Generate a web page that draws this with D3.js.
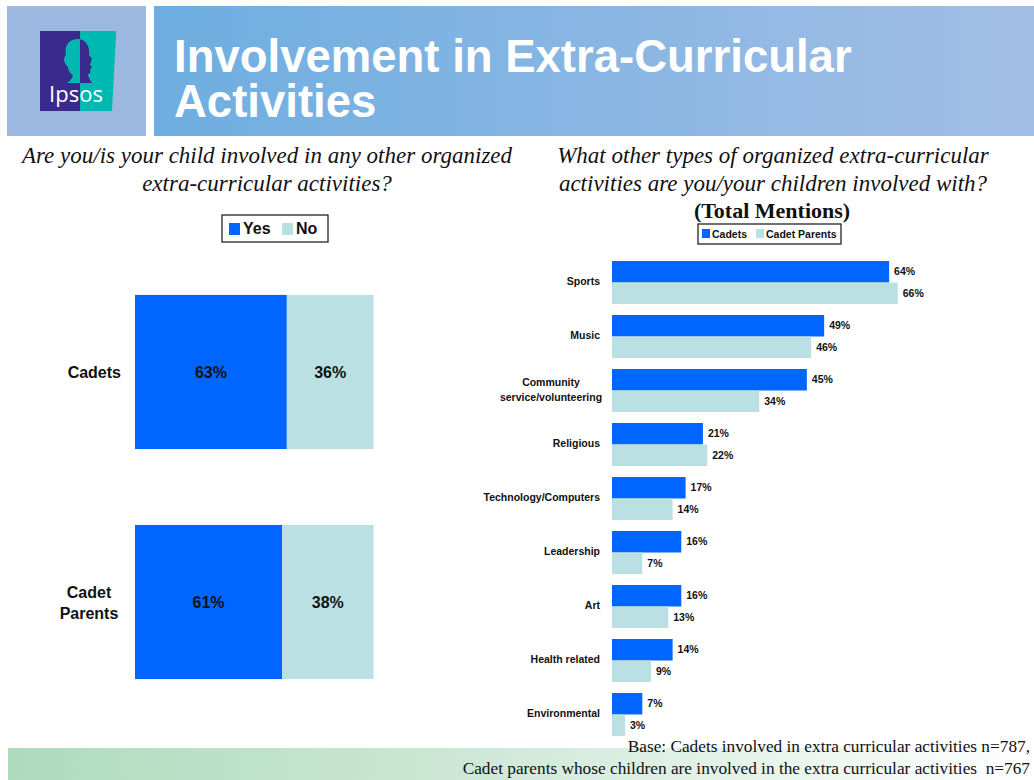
<!DOCTYPE html>
<html>
<head>
<meta charset="utf-8">
<script src="https://cdn.jsdelivr.net/npm/d3@7"></script>
<style>
  html, body { margin: 0; padding: 0; background: #fff; }
  svg { display: block; }
</style>
</head>
<body>
<script>
// Left panel: share involved in other organized activities
const groups = ["Cadets", "Cadet Parents"];
const groupLines = [["Cadets"], ["Cadet", "Parents"]];
const yesValues = [63, 61];
const noValues = [36, 38];

// Right panel: types of activities (total mentions)
const activities = ["Sports", "Music", "Community service/volunteering", "Religious",
  "Technology/Computers", "Leadership", "Art", "Health related", "Environmental"];
const activityLines = [["Sports"], ["Music"], ["Community", "service/volunteering"], ["Religious"],
  ["Technology/Computers"], ["Leadership"], ["Art"], ["Health related"], ["Environmental"]];
const cadetValues = [64, 49, 45, 21, 17, 16, 16, 14, 7];
const parentValues = [66, 46, 34, 22, 14, 7, 13, 9, 3];
const seriesNames = ["Cadets", "Cadet Parents"];

const BLUE = "#0066ff";
const LIGHT = "#bbe0e3";
const W = 1034, H = 780;

const svg = d3.select("body").append("svg").attr("width", W).attr("height", H);
const defs = svg.append("defs");

// ---------- footer band (drawn first, behind everything) ----------
const fg = defs.append("linearGradient").attr("id", "ftr").attr("x1", "0").attr("x2", "1");
fg.append("stop").attr("offset", "0").attr("stop-color", "#afdbbd");
fg.append("stop").attr("offset", "0.45").attr("stop-color", "#cde8d6");
fg.append("stop").attr("offset", "1").attr("stop-color", "#ffffff");
svg.append("rect").attr("x", 8).attr("y", 748).attr("width", W - 8).attr("height", 32).attr("fill", "url(#ftr)");

// ---------- header ----------
const hg = defs.append("linearGradient").attr("id", "hdr").attr("x1", "0").attr("x2", "1");
hg.append("stop").attr("offset", "0").attr("stop-color", "#6eaee0");
hg.append("stop").attr("offset", "1").attr("stop-color", "#a3bee6");
svg.append("rect").attr("x", 7).attr("y", 6).attr("width", 139).attr("height", 130).attr("fill", "#9db8e0");
svg.append("rect").attr("x", 154).attr("y", 6).attr("width", W - 154).attr("height", 130).attr("fill", "url(#hdr)");

// logo
const logo = svg.append("g").attr("transform", "translate(40,31)");
logo.append("path").attr("d", "M0,0 H76 V4 L72,80 H0 Z").attr("fill", "#00b8b2");
logo.append("rect").attr("width", 40).attr("height", 80).attr("fill", "#3a2a8c");
const clipL = defs.append("clipPath").attr("id", "cl");
clipL.append("rect").attr("x", 0).attr("y", 0).attr("width", 40).attr("height", 80);
const clipR = defs.append("clipPath").attr("id", "cr");
clipR.append("rect").attr("x", 40).attr("y", 0).attr("width", 40).attr("height", 80);
const head = "M38,8 C28,8 24,16 26,24 C22,28 25,34 28,36 C28,40 31,43 33,44 C32,48 30,50 27,52 L52,52 C50,49 48,46 48,43 C50,43 51,41 50,39 L52,36 L50,34 C51,32 51,29 52,28 L49,24 C50,14 45,8 38,8 Z";
logo.append("path").attr("d", head).attr("fill", "#00b8b2").attr("clip-path", "url(#cl)");
logo.append("path").attr("d", head).attr("fill", "#3a2a8c").attr("clip-path", "url(#cr)");
logo.append("text").attr("x", 36).attr("y", 71).attr("text-anchor", "middle")
  .attr("font-family", "'Open Sans', Arial, sans-serif").attr("font-size", 22).attr("fill", "#fff")
  .text("Ipsos");

// title, one text element per line
const titleLines = ["Involvement in Extra-Curricular", "Activities"];
titleLines.forEach((l, i) => svg.append("text").attr("x", 174).attr("y", 72 + i * 45)
  .attr("font-family", "'Liberation Sans', Arial, sans-serif")
  .attr("font-weight", "bold").attr("font-size", 45.5).attr("fill", "#fff").text(l));

// ---------- question headings ----------
function italicLines(x, ys, lines) {
  const t = svg.append("text").attr("text-anchor", "middle")
    .attr("font-family", "'Liberation Serif', 'Times New Roman', serif")
    .attr("font-style", "italic").attr("font-size", 23).attr("fill", "#111");
  lines.forEach((l, i) => t.append("tspan").attr("x", x).attr("y", ys[i]).text(l));
}
italicLines(267, [163, 191], ["Are you/is your child involved in any other organized", "extra-curricular activities?"]);
italicLines(773, [163, 191], ["What other types of organized extra-curricular", "activities are you/your children involved with?"]);
svg.append("text").attr("x", 772).attr("y", 218).attr("text-anchor", "middle")
  .attr("font-family", "'Liberation Serif', 'Times New Roman', serif")
  .attr("font-weight", "bold").attr("font-size", 22).attr("fill", "#111").text("(Total Mentions)");

// ---------- left chart ----------
const xL = d3.scaleLinear().domain([0, 100]).range([135, 376]);
const yL = d3.scaleBand().domain(groups).range([219, 755]).paddingInner(0.33).paddingOuter(0.33);

const left = svg.append("g");
groups.forEach((g, i) => {
  const y0 = yL(g), h = yL.bandwidth();
  const segs = [{ v0: 0, v1: yesValues[i], c: BLUE }, { v0: yesValues[i], v1: yesValues[i] + noValues[i], c: LIGHT }];
  segs.forEach(s => {
    left.append("rect").attr("x", xL(s.v0)).attr("y", y0)
      .attr("width", xL(s.v1) - xL(s.v0)).attr("height", h).attr("fill", s.c);
    left.append("text").attr("x", (xL(s.v0) + xL(s.v1)) / 2).attr("y", y0 + h / 2 + 6)
      .attr("text-anchor", "middle").attr("font-family", "'Liberation Sans', Arial, sans-serif")
      .attr("font-weight", "bold").attr("font-size", 16).attr("fill", "#111")
      .text((s.v1 - s.v0) + "%");
  });
  const lines = groupLines[i];
  const lab = left.append("text").attr("font-family", "'Liberation Sans', Arial, sans-serif")
    .attr("font-weight", "bold").attr("font-size", 16).attr("fill", "#111");
  if (lines.length === 1) {
    lab.attr("text-anchor", "end").append("tspan").attr("x", 121).attr("y", y0 + h / 2 + 6).text(lines[0]);
  } else {
    lab.attr("text-anchor", "middle");
    lines.forEach((l, k) => lab.append("tspan").attr("x", 89)
      .attr("y", y0 + h / 2 + 6 + (k - (lines.length - 1) / 2) * 21).text(l));
  }
});

// left legend
const lg = svg.append("g").attr("transform", "translate(222,215)");
lg.append("rect").attr("width", 106).attr("height", 27).attr("fill", "#fff").attr("stroke", "#111").attr("stroke-width", 1.2);
[["Yes", BLUE, 7], ["No", LIGHT, 60]].forEach(([t, c, x]) => {
  lg.append("rect").attr("x", x).attr("y", 8).attr("width", 11).attr("height", 12).attr("fill", c);
  lg.append("text").attr("x", x + 14).attr("y", 19).attr("font-family", "'Liberation Sans', Arial, sans-serif")
    .attr("font-weight", "bold").attr("font-size", 16).attr("fill", "#111").text(t);
});

// ---------- right chart ----------
const xR = d3.scaleLinear().domain([0, 100]).range([612, 612 + 433]);
const yR = d3.scaleBand().domain(activities).range([250, 747]).paddingInner(11 / 54).paddingOuter(11 / 54);
const ySub = d3.scaleBand().domain(seriesNames).range([0, yR.bandwidth()]);
const colors = { "Cadets": BLUE, "Cadet Parents": LIGHT };

const right = svg.append("g");
activities.forEach((a, i) => {
  const vals = { "Cadets": cadetValues[i], "Cadet Parents": parentValues[i] };
  seriesNames.forEach(s => {
    const y = yR(a) + ySub(s);
    right.append("rect").attr("x", xR(0)).attr("y", y)
      .attr("width", xR(vals[s]) - xR(0)).attr("height", ySub.bandwidth()).attr("fill", colors[s]);
    right.append("text").attr("x", xR(vals[s]) + 5).attr("y", y + ySub.bandwidth() / 2 + 3.5)
      .attr("font-family", "'Liberation Sans', Arial, sans-serif").attr("font-weight", "bold")
      .attr("font-size", 10.5).attr("fill", "#111").text(vals[s] + "%");
  });
  const lines = activityLines[i];
  const cy = yR(a) + yR.bandwidth() / 2;
  const lab = right.append("text").attr("font-family", "'Liberation Sans', Arial, sans-serif")
    .attr("font-weight", "bold").attr("font-size", 10.5).attr("fill", "#111");
  if (lines.length === 1) {
    lab.attr("text-anchor", "end").append("tspan").attr("x", 600).attr("y", cy + 2.5).text(lines[0]);
  } else {
    lab.attr("text-anchor", "middle");
    lines.forEach((l, k) => lab.append("tspan").attr("x", 551)
      .attr("y", cy + 3 + (k - (lines.length - 1) / 2) * 15).text(l));
  }
});

// right legend
const rg = svg.append("g").attr("transform", "translate(698,224)");
rg.append("rect").attr("width", 143).attr("height", 20).attr("fill", "#fff").attr("stroke", "#111").attr("stroke-width", 1.2);
[["Cadets", BLUE, 4], ["Cadet Parents", LIGHT, 58]].forEach(([t, c, x]) => {
  rg.append("rect").attr("x", x).attr("y", 5).attr("width", 8).attr("height", 9).attr("fill", c);
  rg.append("text").attr("x", x + 10).attr("y", 14).attr("font-family", "'Liberation Sans', Arial, sans-serif")
    .attr("font-weight", "bold").attr("font-size", 10.5).attr("fill", "#111").text(t);
});

// ---------- footer note ----------
const ft = svg.append("text").attr("text-anchor", "end")
  .attr("font-family", "'Liberation Serif', 'Times New Roman', serif").attr("font-size", 17.3).attr("fill", "#111");
ft.append("tspan").attr("x", 1030).attr("y", 752).text("Base: Cadets involved in extra curricular activities n=787,");
ft.append("tspan").attr("x", 1030).attr("y", 774)
  .text("Cadet parents whose children are involved in the extra curricular activities \u00a0n=767");
</script>
</body>
</html>
